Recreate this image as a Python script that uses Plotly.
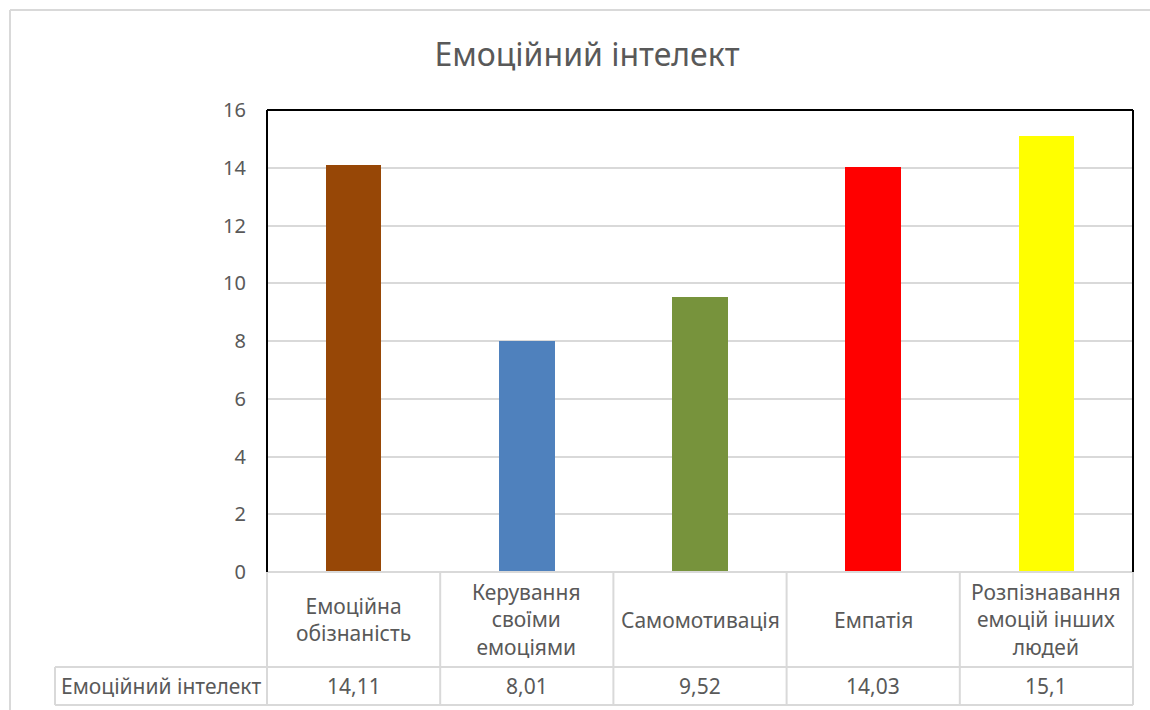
import plotly.graph_objects as go

# Chart data
categories = ["Емоційна<br>обізнаність", "Керування<br>своїми<br>емоціями",
              "Самомотивація", "Емпатія", "Розпізнавання<br>емоцій інших<br>людей"]
values = [14.11, 8.01, 9.52, 14.03, 15.1]
value_labels = ["14,11", "8,01", "9,52", "14,03", "15,1"]
bar_colors = ["#974706", "#4F81BD", "#77933C", "#FF0000", "#FFFF00"]
series_name = "Емоційний інтелект"
y_ticks = [0, 2, 4, 6, 8, 10, 12, 14, 16]

W, H = 1150, 710
TEXT = "#595959"
GRID = "#D9D9D9"
FONT = "Noto Sans"


def px(x):
    return x / W


def py(y):
    return 1 - y / H


# plot area in pixels
L, R, T, B = 267, 1133, 110, 572
ROW1_B, ROW2_B, KEY_L = 667, 705, 55

fig = go.Figure(go.Bar(
    x=list(range(len(values))), y=values, width=0.32,
    marker=dict(color=bar_colors, line=dict(width=0)),
    showlegend=False, hoverinfo="x+y",
))

shapes = []
# outer chart border
shapes.append(dict(type="line", xref="paper", yref="paper", x0=px(10), x1=px(1150),
                   y0=py(10), y1=py(10), line=dict(color=GRID, width=2)))
shapes.append(dict(type="line", xref="paper", yref="paper", x0=px(10), x1=px(10),
                   y0=py(10), y1=py(710), line=dict(color=GRID, width=2)))
# data table grid
n = len(values)
col_edges = [L + (R - L) * i / n for i in range(n + 1)]
for y in (B, ROW1_B, ROW2_B):
    x_start = KEY_L if y != B else L
    shapes.append(dict(type="line", xref="paper", yref="paper", x0=px(x_start), x1=px(R),
                       y0=py(y), y1=py(y), line=dict(color=GRID, width=2)))
for x in col_edges:
    shapes.append(dict(type="line", xref="paper", yref="paper", x0=px(x), x1=px(x),
                       y0=py(B), y1=py(ROW2_B), line=dict(color=GRID, width=2)))
shapes.append(dict(type="line", xref="paper", yref="paper", x0=px(KEY_L), x1=px(KEY_L),
                   y0=py(ROW1_B), y1=py(ROW2_B), line=dict(color=GRID, width=2)))
# plot area frame (left, top, right)
for (x0, y0, x1, y1) in [(L, B, L, T), (L, T, R, T), (R, T, R, B)]:
    shapes.append(dict(type="line", xref="paper", yref="paper", x0=px(x0), x1=px(x1),
                       y0=py(y0), y1=py(y1), line=dict(color="#000000", width=2)))

annotations = []
for i, (cat, lab) in enumerate(zip(categories, value_labels)):
    annotations.append(dict(x=i, xref="x", y=py((B + ROW1_B) / 2), yref="paper",
                            text=cat, showarrow=False, xanchor="center", yanchor="middle",
                            font=dict(family=FONT, size=21, color=TEXT)))
    annotations.append(dict(x=i, xref="x", y=py((ROW1_B + ROW2_B) / 2), yref="paper",
                            text=lab, showarrow=False, xanchor="center", yanchor="middle",
                            font=dict(family=FONT, size=21, color=TEXT)))
annotations.append(dict(x=px((KEY_L + L) / 2), xref="paper", y=py((ROW1_B + ROW2_B) / 2),
                        yref="paper", text=series_name, showarrow=False,
                        xanchor="center", yanchor="middle",
                        font=dict(family=FONT, size=21, color=TEXT)))

fig.update_layout(
    width=W, height=H, margin=dict(l=0, r=0, t=0, b=0, pad=0), autosize=False,
    paper_bgcolor="white", plot_bgcolor="white",
    title=dict(text=series_name, x=px(587), xanchor="center", y=py(55), yanchor="middle",
               automargin=False,
               font=dict(family=FONT, size=32, color=TEXT)),
    xaxis=dict(domain=[px(L), px(R)], range=[-0.5, n - 0.5], showticklabels=False,
               showgrid=False, zeroline=False, showline=False, ticks="", automargin=False),
    yaxis=dict(domain=[py(B), py(T)], range=[0, 16], tickvals=y_ticks, automargin=False,
               showgrid=True, gridcolor=GRID, gridwidth=2, zeroline=False,
               showline=False, ticks="", ticklabelstandoff=20,
               tickfont=dict(family=FONT, size=20, color=TEXT)),
    shapes=shapes, annotations=annotations, bargap=0,
)

fig.write_html("out.html")
